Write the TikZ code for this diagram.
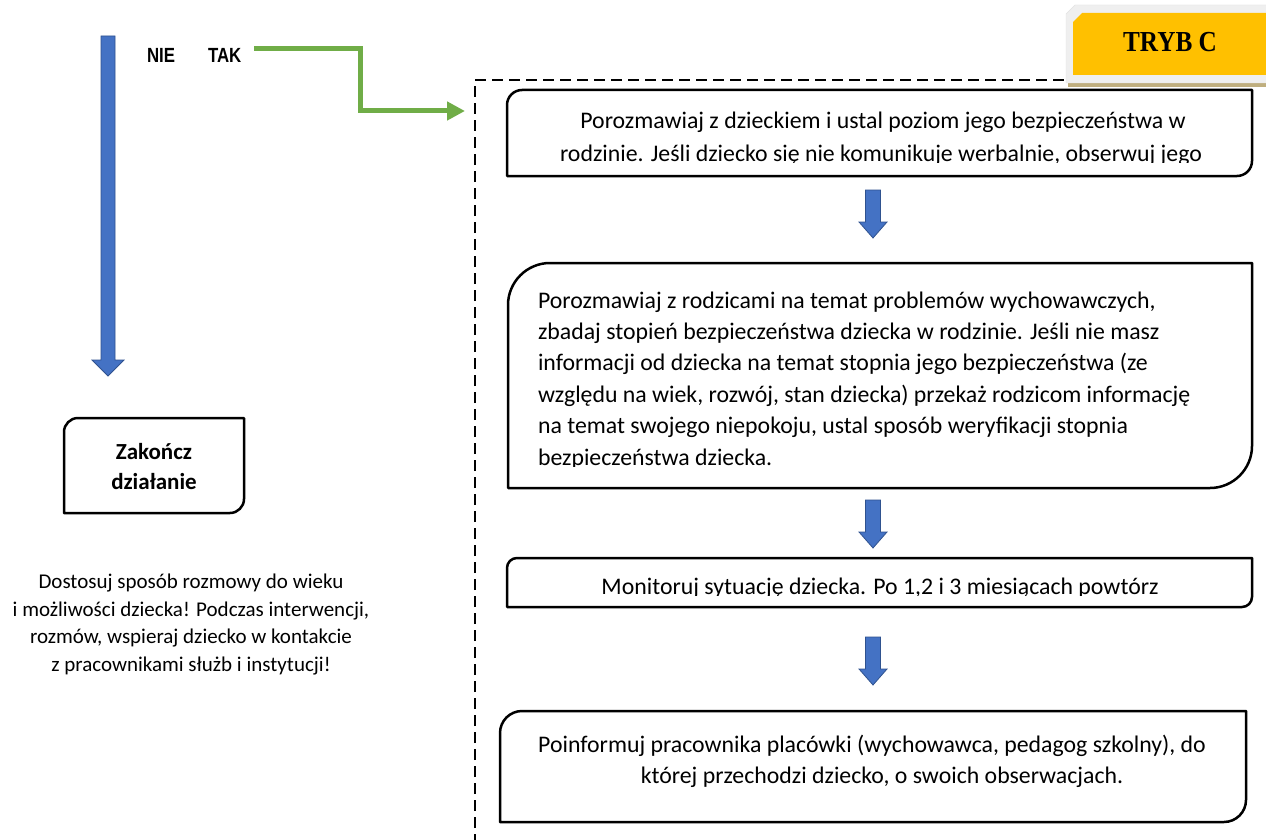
\documentclass[tikz,border=0pt]{standalone}
\usepackage{fontspec}
\setmainfont{Carlito}
\newfontfamily\serifb{Liberation Serif}
\newfontfamily\arialb{Liberation Sans}
\usetikzlibrary{calc,arrows.meta}
\definecolor{ablue}{HTML}{4472C4}
\definecolor{ablueedge}{HTML}{2F528F}
\definecolor{agreen}{HTML}{70AD47}
\definecolor{tyellow}{HTML}{FFC000}
\definecolor{tframe}{HTML}{EFEFEF}
\definecolor{tframeedge}{HTML}{E2E2E2}
\definecolor{tshadow}{HTML}{BFAE7E}

\newcommand\diagbox[2]{%
  \draw[boxline] (#1.south west) -- ($(#1.north west)+(0,#2)$)
    .. controls ($(#1.north west)+(0,0.45*#2)$) and ($(#1.north west)+(0.45*#2,0)$) .. ($(#1.north west)+(#2,0)$)
    -- (#1.north east) -- ($(#1.south east)+(0,-#2)$)
    .. controls ($(#1.south east)+(0,-0.45*#2)$) and ($(#1.south east)+(-0.45*#2,0)$) .. ($(#1.south east)+(-#2,0)$)
    -- cycle;}

\newcommand\blockarrow[4]{%
  \path[blockarr] let \p1=#1, \p2=#2 in
   (\x1-#3pt,\y1) -- (\x1+#3pt,\y1) -- (\x1+#3pt,\y2+16pt) -- (\x1+#4pt,\y2+16pt)
   -- (\x1,\y2) -- (\x1-#4pt,\y2+16pt) -- (\x1-#3pt,\y2+16pt) -- cycle;}

\begin{document}
\begin{tikzpicture}[x=1pt,y=-1pt,
  boxline/.style={line width=2.5pt,line join=round},
  boxnode/.style={inner sep=0pt,outer sep=0pt},
  blockarr/.style={fill=ablue,draw=ablueedge,line width=0.8pt,line join=miter},
  txt/.style={inner sep=0pt,outer sep=0pt,anchor=base,font=\fontsize{23.8}{28}\selectfont},
  txtl/.style={txt,anchor=base west},
  note/.style={inner sep=0pt,outer sep=0pt,anchor=base,font=\fontsize{21}{25}\selectfont},
  zakt/.style={inner sep=0pt,outer sep=0pt,anchor=base,font=\bfseries\fontsize{23}{27}\selectfont},
  yesno/.style={inner sep=0pt,outer sep=0pt,anchor=base west,font=\arialb\bfseries\fontsize{20.5}{24}\selectfont}]
\clip (0,0) rectangle (1266,840);
\fill[white] (0,0) rectangle (1266,840);

% dashed frame
\draw[line width=2pt, dash pattern=on 11pt off 6pt] (475,845) -- (475,80) -- (1070,80);

% TRYB C tab
\fill[tshadow] (1068,82) rectangle (1270,87);
\filldraw[fill=tframe, draw=tframeedge] (1066,83) -- (1066,14) -- (1075,5) -- (1270,5) -- (1270,83) -- cycle;
\fill[tyellow] (1073,75) -- (1073,22) -- (1082,13) -- (1270,13) -- (1270,75) -- cycle;
\node[anchor=base, inner sep=0pt] (tryb) at (1170,52) {\serifb\bfseries\fontsize{29}{31}\selectfont\scalebox{0.87}[1]{TRYB C}};

% NIE / TAK
\node[yesno] (nie) at (147,63) {\scalebox{0.82}[1]{NIE}};
\node[yesno] (tak) at (208,63) {\scalebox{0.82}[1]{TAK}};

% green connector
\coordinate (gs) at (254,49);
\coordinate (ge) at (465,111);
\draw[agreen, line width=5pt, line join=miter, -{Triangle[length=18pt,width=18pt]}] (gs) -- ++(106,0) |- (ge);

% NIE branch arrow
\coordinate (ns) at (108,36);
\coordinate (ne) at (108,376);
\blockarrow{(ns)}{(ne)}{7}{16}

% Zakończ działanie
\node[boxnode, minimum width=180pt, minimum height=95pt] (zak) at (154,465.5) {};
\diagbox{zak}{14}
\node[zakt] (zak1) at (154,459) {Zakończ};
\node[zakt] (zak2) at (154,489) {działanie};

% note
\node[note] (n1) at (191,588) {Dostosuj sposób rozmowy do wieku};
\node[note] (n2) at (191,616) {i możliwości dziecka! Podczas interwencji,};
\node[note] (n3) at (191,643) {rozmów, wspieraj dziecko w kontakcie};
\node[note] (n4) at (191,671) {z pracownikami służb i instytucji!};

% box 1
\node[boxnode, minimum width=745pt, minimum height=86pt] (b1) at (879.5,133) {};
\diagbox{b1}{15}
\begin{scope}
\clip ($(b1.north west)+(2,2)$) rectangle ($(b1.south east)+(-2,-14)$);
\node[txt] (b1a) at (883,129) {Porozmawiaj z dzieckiem i ustal poziom jego bezpieczeństwa w};
\node[txt] (b1b) at (881,161) {rodzinie. Jeśli dziecko się nie komunikuje werbalnie, obserwuj jego};
\end{scope}

% box 2
\node[boxnode, minimum width=744pt, minimum height=225pt] (b2) at (880,375.5) {};
\diagbox{b2}{42}
\begin{scope}
\clip ($(b2.north west)+(2,2)$) rectangle ($(b2.south east)+(-2,-22)$);
\node[txtl] (b2a) at (538,308) {Porozmawiaj z rodzicami na temat problemów wychowawczych,};
\node[txtl] (b2b) at (538,339.4) {zbadaj stopień bezpieczeństwa dziecka w rodzinie. Jeśli nie masz};
\node[txtl] (b2c) at (538,370.8) {informacji od dziecka na temat stopnia jego bezpieczeństwa (ze};
\node[txtl] (b2d) at (538,402.2) {względu na wiek, rozwój, stan dziecka) przekaż rodzicom informację};
\node[txtl] (b2e) at (538,433.6) {na temat swojego niepokoju, ustal sposób weryfikacji stopnia};
\node[txtl] (b2f) at (538,465) {bezpieczeństwa dziecka.};
\end{scope}

% box 3
\node[boxnode, minimum width=745pt, minimum height=49pt] (b3) at (879.5,582.5) {};
\diagbox{b3}{10}
\begin{scope}
\clip ($(b3.north west)+(2,2)$) rectangle ($(b3.south east)+(-2,-12)$);
\node[txt] (b3a) at (880,594) {Monitoruj sytuację dziecka. Po 1,2 i 3 miesiącach powtórz};
\end{scope}

% box 4
\node[boxnode, minimum width=746pt, minimum height=111pt] (b4) at (873,766.5) {};
\diagbox{b4}{22}
\node[txt] (b4a) at (872,752) {Poinformuj pracownika placówki (wychowawca, pedagog szkolny), do};
\node[txt] (b4b) at (882,783) {której przechodzi dziecko, o swoich obserwacjach.};

% blue arrows between boxes
\blockarrow{($(b1.south)+(-6.5,14)$)}{($(b2.north)+(-7,-25)$)}{7.5}{14}
\blockarrow{($(b2.south)+(-7,12)$)}{($(b3.north)+(-6.5,-10)$)}{7.5}{14}
\blockarrow{($(b3.south)+(-6.5,30)$)}{($(b4.north)+(0,-26)$)}{7.5}{14}
\end{tikzpicture}
\end{document}
